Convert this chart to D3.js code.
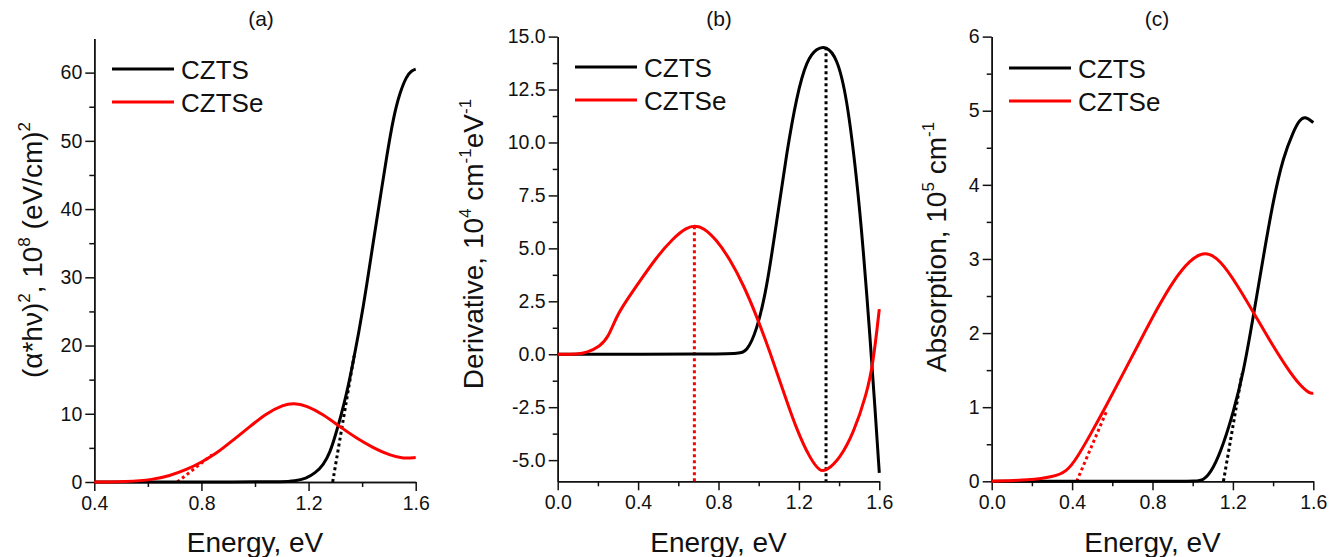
<!DOCTYPE html>
<html>
<head>
<meta charset="utf-8">
<script src="https://cdn.jsdelivr.net/npm/d3@7"></script>
<style>
  body { margin: 0; background: #fff; }
  svg { font-family: Arial, "Liberation Sans", sans-serif; }
  .tick text { font-size: 19.5px; fill: #111; }
  .axis path, .axis line { stroke: #111; stroke-width: 1.5px; }
</style>
</head>
<body>
<svg id="chart" width="1330" height="557"></svg>
<script>
// panel (a): (alpha*h*nu)^2
var aCztsE   = [0.4, 1.0, 1.1, 1.15, 1.19, 1.225, 1.255, 1.28, 1.3, 1.32, 1.34, 1.367, 1.404, 1.442, 1.467, 1.492, 1.517, 1.541, 1.566, 1.585, 1.6];
var aCztsV   = [0, 0, 0.02, 0.15, 0.5, 1.3, 2.5, 4.3, 6.8, 9.6, 12.6, 17.6, 25.4, 35.3, 41.5, 47.8, 53.5, 57.1, 59.5, 60.3, 60.5];
var aCztseE  = [0.4, 0.52, 0.62, 0.68, 0.745, 0.8, 0.857, 0.92, 0.98, 1.044, 1.106, 1.143, 1.193, 1.255, 1.317, 1.38, 1.442, 1.504, 1.554, 1.6];
var aCztseV  = [0, 0.05, 0.34, 0.9, 1.8, 2.9, 4.2, 6.2, 8.1, 10.1, 11.3, 11.6, 11.2, 9.9, 8.1, 6.4, 5.0, 3.9, 3.4, 3.6];
var aFitCztsE = [1.29, 1.37], aFitCztsV = [0, 18.5];
var aFitCztseE = [0.71, 0.84], aFitCztseV = [0, 4.0];

// panel (b): derivative
var bCztsE  = [0, 0.8, 0.9, 0.94, 0.99, 1.04, 1.09, 1.139, 1.189, 1.239, 1.289, 1.335, 1.388, 1.438, 1.488, 1.52, 1.554, 1.579, 1.6];
var bCztsV  = [0, 0, 0.05, 0.1, 1.1, 3.1, 6.3, 9.5, 12.2, 13.9, 14.45, 14.55, 14.05, 12.2, 8.3, 5.0, 0.8, -2.6, -5.6];
var bCztseE = [0, 0.1, 0.144, 0.21, 0.252, 0.293, 0.343, 0.41, 0.49, 0.575, 0.642, 0.683, 0.724, 0.791, 0.857, 0.923, 0.99, 1.056, 1.122, 1.189, 1.255, 1.305, 1.338, 1.404, 1.471, 1.537, 1.57, 1.6];
var bCztseV = [0, 0, 0.07, 0.37, 0.8, 1.8, 2.55, 3.47, 4.56, 5.49, 5.99, 6.07, 5.99, 5.4, 4.48, 3.3, 1.8, 0.1, -1.73, -3.57, -4.92, -5.55, -5.5, -4.92, -3.74, -1.9, -0.39, 2.13];
var bPeakCzts = [1.335, 14.5], bPeakCztse = [0.68, 6.05];

// panel (c): absorption
var cCztsE  = [0, 1.0, 1.053, 1.103, 1.153, 1.202, 1.252, 1.302, 1.352, 1.402, 1.451, 1.501, 1.53, 1.559, 1.6];
var cCztsV  = [0, 0, 0, 0.17, 0.5, 0.93, 1.46, 2.23, 3.04, 3.81, 4.38, 4.72, 4.87, 4.93, 4.84];
var cCztseE = [0, 0.19, 0.307, 0.373, 0.423, 0.489, 0.572, 0.655, 0.738, 0.821, 0.904, 0.987, 1.062, 1.136, 1.219, 1.302, 1.385, 1.468, 1.534, 1.584, 1.6];
var cCztseV = [0, 0.015, 0.06, 0.13, 0.31, 0.62, 1.03, 1.46, 1.89, 2.32, 2.71, 2.99, 3.11, 2.99, 2.66, 2.28, 1.89, 1.53, 1.29, 1.18, 1.19];
var cFitCztsE = [1.153, 1.245], cFitCztsV = [0, 1.45];
var cFitCztseE = [0.423, 0.572], cFitCztseV = [0, 0.95];

var seriesNames = ["CZTS", "CZTSe"];
var seriesColors = ["#000000", "#ff0000"];

var svg = d3.select("#chart");

function zip(xs, ys) {
    return xs.map(function (x, i) { return [x, ys[i]]; });
}

function drawPanel(p) {
    var x = d3.scaleLinear().domain(p.xDomain).range([p.left, p.right]);
    var y = d3.scaleLinear().domain(p.yDomain).range([p.bottom, p.top]);
    var g = svg.append("g");

    // minor ticks
    g.append("g").attr("class", "axis")
        .attr("transform", "translate(0," + p.bottom + ")")
        .call(d3.axisBottom(x).tickValues(p.xMinor).tickSize(5).tickSizeOuter(0).tickFormat(""));
    g.append("g").attr("class", "axis")
        .attr("transform", "translate(" + p.left + ",0)")
        .call(d3.axisLeft(y).tickValues(p.yMinor).tickSize(5).tickSizeOuter(0).tickFormat(""));

    // major ticks
    g.append("g").attr("class", "axis")
        .attr("transform", "translate(0," + p.bottom + ")")
        .call(d3.axisBottom(x).tickValues(p.xTicks).tickSize(9).tickSizeOuter(0).tickPadding(5)
            .tickFormat(d3.format(".1f")));
    g.append("g").attr("class", "axis")
        .attr("transform", "translate(" + p.left + ",0)")
        .call(d3.axisLeft(y).tickValues(p.yTicks).tickSize(9).tickSizeOuter(0).tickPadding(3)
            .tickFormat(function (d) { return d3.format(p.yFormat)(d).replace("\u2212", "-"); }));

    var line = d3.line()
        .x(function (d) { return x(d[0]); })
        .y(function (d) { return y(d[1]); })
        .curve(d3.curveBasis);

    // dotted guide lines
    p.dotted.forEach(function (d) {
        g.append("path")
            .attr("d", d3.line().x(function (q) { return x(q[0]); }).y(function (q) { return y(q[1]); })(d.pts))
            .attr("fill", "none")
            .attr("stroke", d.color)
            .attr("stroke-width", 3)
            .attr("stroke-dasharray", "3,3");
    });

    // curves
    p.curves.forEach(function (c) {
        g.append("path")
            .attr("d", line(c.pts))
            .attr("fill", "none")
            .attr("stroke", c.color)
            .attr("stroke-width", 3)
            .attr("stroke-linejoin", "round");
    });

    // legend
    seriesNames.forEach(function (name, i) {
        var ly = p.legend.y + i * 33;
        g.append("line")
            .attr("x1", p.legend.x).attr("x2", p.legend.x + 62)
            .attr("y1", ly).attr("y2", ly)
            .attr("stroke", seriesColors[i]).attr("stroke-width", 3);
        g.append("text")
            .attr("x", p.legend.x + 69).attr("y", ly + 9.5)
            .attr("font-size", 26).attr("fill", "#111")
            .text(name);
    });

    // title
    g.append("text")
        .attr("x", p.titleX).attr("y", 26)
        .attr("text-anchor", "middle").attr("font-size", 21).attr("fill", "#111")
        .text(p.title);

    // x label
    g.append("text")
        .attr("x", (p.left + p.right) / 2).attr("y", 552)
        .attr("text-anchor", "middle").attr("font-size", 28).attr("fill", "#111")
        .text("Energy, eV");

    // y label with superscripts
    var yl = g.append("text")
        .attr("transform", "translate(" + p.yLabel.x + "," + p.yLabel.y + ") rotate(-90)")
        .attr("text-anchor", "middle").attr("font-size", 28).attr("fill", "#111");
    p.yLabel.parts.forEach(function (part) {
        var t = yl.append("tspan").text(part[0]);
        if (part[1] === "sup") {
            t.attr("font-size", 17).attr("dy", -12);
        } else if (part[1] === "after") {
            t.attr("dy", 12);
        }
    });
}

drawPanel({
    left: 94.3, right: 415.7, top: 38.5, bottom: 482,
    xDomain: [0.4, 1.6], yDomain: [0, 65],
    xTicks: [0.4, 0.8, 1.2, 1.6], xMinor: [0.6, 1.0, 1.4],
    yTicks: [0, 10, 20, 30, 40, 50, 60], yMinor: [5, 15, 25, 35, 45, 55],
    yFormat: "d",
    curves: [
        { pts: zip(aCztsE, aCztsV), color: seriesColors[0] },
        { pts: zip(aCztseE, aCztseV), color: seriesColors[1] }
    ],
    dotted: [
        { pts: zip(aFitCztsE, aFitCztsV), color: seriesColors[0] },
        { pts: zip(aFitCztseE, aFitCztseV), color: seriesColors[1] }
    ],
    legend: { x: 112, y: 69 },
    title: "(a)", titleX: 261,
    yLabel: { x: 42, y: 250, parts: [["(\u03B1*h\u03BD)"], ["2", "sup"], [", 10", "after"], ["8", "sup"], [" (eV/cm)", "after"], ["2", "sup"]] }
});

drawPanel({
    left: 557.7, right: 879.3, top: 36.6, bottom: 481.3,
    xDomain: [0, 1.6], yDomain: [-6, 15],
    xTicks: [0, 0.4, 0.8, 1.2, 1.6], xMinor: [0.2, 0.6, 1.0, 1.4],
    yTicks: [-5, -2.5, 0, 2.5, 5, 7.5, 10, 12.5, 15],
    yMinor: [-3.75, -1.25, 1.25, 3.75, 6.25, 8.75, 11.25, 13.75],
    yFormat: ".1f",
    curves: [
        { pts: zip(bCztsE, bCztsV), color: seriesColors[0] },
        { pts: zip(bCztseE, bCztseV), color: seriesColors[1] }
    ],
    dotted: [
        { pts: [[bPeakCzts[0], bPeakCzts[1]], [bPeakCzts[0], -6]], color: seriesColors[0] },
        { pts: [[bPeakCztse[0], bPeakCztse[1]], [bPeakCztse[0], -6]], color: seriesColors[1] }
    ],
    legend: { x: 575, y: 67 },
    title: "(b)", titleX: 719,
    yLabel: { x: 483, y: 244, parts: [["Derivative,  10"], ["4", "sup"], [" cm", "after"], ["-1", "sup"], ["eV", "after"], ["-1", "sup"]] }
});

drawPanel({
    left: 991.7, right: 1313.3, top: 36.6, bottom: 481.3,
    xDomain: [0, 1.6], yDomain: [0, 6],
    xTicks: [0, 0.4, 0.8, 1.2, 1.6], xMinor: [0.2, 0.6, 1.0, 1.4],
    yTicks: [0, 1, 2, 3, 4, 5, 6], yMinor: [0.5, 1.5, 2.5, 3.5, 4.5, 5.5],
    yFormat: "d",
    curves: [
        { pts: zip(cCztsE, cCztsV), color: seriesColors[0] },
        { pts: zip(cCztseE, cCztseV), color: seriesColors[1] }
    ],
    dotted: [
        { pts: zip(cFitCztsE, cFitCztsV), color: seriesColors[0] },
        { pts: zip(cFitCztseE, cFitCztseV), color: seriesColors[1] }
    ],
    legend: { x: 1009, y: 68 },
    title: "(c)", titleX: 1157,
    yLabel: { x: 946, y: 247, parts: [["Absorption, 10"], ["5", "sup"], [" cm", "after"], ["-1", "sup"]] }
});
</script>
</body>
</html>
